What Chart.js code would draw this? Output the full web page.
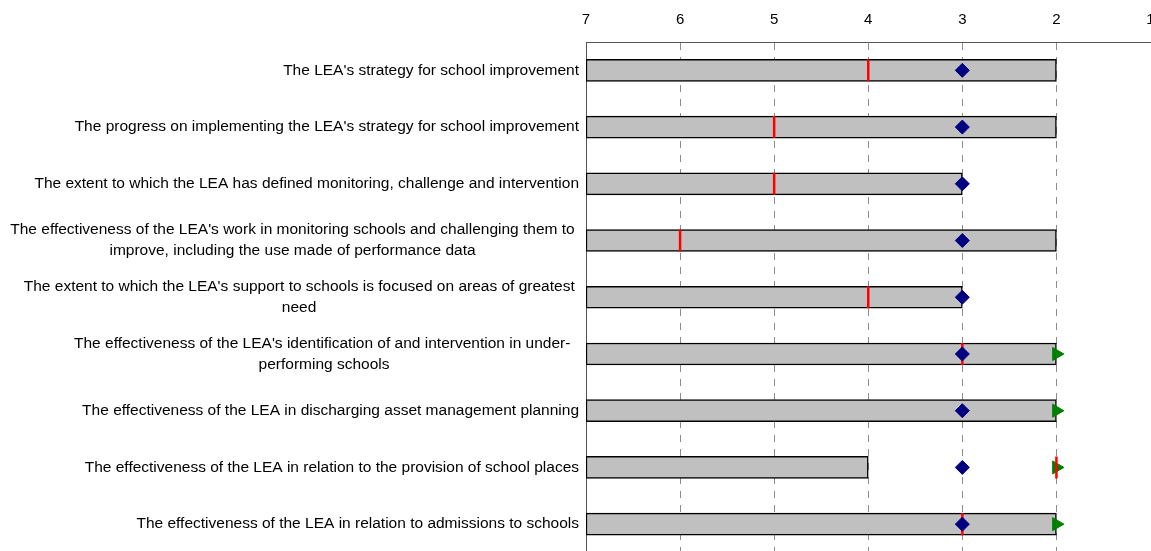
<!DOCTYPE html>
<html>
<head>
<meta charset="utf-8">
<script src="https://cdn.jsdelivr.net/npm/chart.js@4"></script>
<style>
  html, body { margin: 0; padding: 0; background: #fff; overflow: hidden; width: 1151px; height: 551px; }
  #chart { position: absolute; left: 0; top: 0; }
</style>
</head>
<body>
<canvas id="chart" width="1164" height="566"></canvas>
<script>
const categories = [
    ["The LEA's strategy for school improvement"],
    ["The progress on implementing the LEA's strategy for school improvement"],
    ["The extent to which the LEA has defined monitoring, challenge and intervention"],
    ["The effectiveness of the LEA's work in monitoring schools and challenging them to ", "improve, including the use made of performance data"],
    ["The extent to which the LEA's support to schools is focused on areas of greatest ", "need"],
    ["The effectiveness of the LEA's identification of and intervention in under-  ", "performing schools"],
    ["The effectiveness of the LEA in discharging asset management planning"],
    ["The effectiveness of the LEA in relation to the provision of school places"],
    ["The effectiveness of the LEA in relation to admissions to schools"]
];
const barStart = 7;
const barEnd = [2, 2, 3, 2, 3, 2, 2, 4, 2];
const redMark = [4, 5, 5, 6, 4, 3, null, 2, 3];
const blueMark = [3, 3, 3, 3, 3, 3, 3, 3, 3];
const greenMark = [null, null, null, null, null, 2, 2, 2, 2];
const xTicks = [7, 6, 5, 4, 3, 2, 1];

const FAMILY = '"Liberation Sans", Arial, sans-serif';
const measure = document.createElement('canvas').getContext('2d');
measure.font = '15.5px ' + FAMILY;
const spaceW = measure.measureText(' ').width;

// centre the lines of a wrapped label on its widest line (labels are drawn right-aligned)
function centreLines(lines) {
    if (lines.length < 2) return lines[0];
    const widths = lines.map(l => measure.measureText(l.trimEnd()).width);
    const maxW = Math.max(...widths);
    const full = measure.measureText(lines[widths.indexOf(maxW)]).width;
    return lines.map((l, i) => l.trimEnd() + ' '.repeat(Math.round(((maxW - widths[i]) / 2 + full - maxW) / spaceW)));
}
const labels = categories.map(c => c.join(' ').trim());

const ctx = document.getElementById('chart').getContext('2d');
new Chart(ctx, {
    type: 'bar',
    data: {
        labels: labels,
        datasets: [
            {
                type: 'bar',
                data: barEnd.map(v => [barStart, v]),
                backgroundColor: '#C0C0C0',
                borderColor: '#000000',
                borderWidth: 1.5,
                borderSkipped: false,
                barThickness: 22,
                order: 4
            },
            {
                type: 'line',
                indexAxis: 'y',
                data: greenMark,
                showLine: false,
                pointStyle: 'triangle',
                rotation: 90,
                radius: 7.5,
                backgroundColor: '#008000',
                borderColor: '#008000',
                borderWidth: 1,
                order: 3
            },
            {
                type: 'line',
                indexAxis: 'y',
                data: redMark,
                showLine: false,
                pointStyle: 'line',
                rotation: 90,
                radius: 11,
                borderColor: '#FF0000',
                borderWidth: 2.5,
                order: 2
            },
            {
                type: 'line',
                indexAxis: 'y',
                data: blueMark,
                showLine: false,
                pointStyle: 'rectRot',
                radius: 7,
                backgroundColor: '#000080',
                borderColor: '#000080',
                borderWidth: 1,
                order: 1
            }
        ]
    },
    options: {
        indexAxis: 'y',
        responsive: false,
        animation: false,
        devicePixelRatio: 1,
        layout: { padding: { top: 0, right: 10, bottom: 8, left: 0 } },
        plugins: {
            legend: { display: false },
            tooltip: { enabled: false }
        },
        scales: {
            x: {
                position: 'top',
                reverse: true,
                min: 1,
                max: 7,
                afterBuildTicks: (scale) => { scale.ticks = xTicks.map(v => ({ value: v })); },
                afterFit: (scale) => {
                    scale.height = 42;
                    scale.paddingLeft = 0;
                    scale.paddingRight = 0;
                },
                ticks: {
                    color: '#000',
                    font: { family: FAMILY, size: 15 },
                    padding: 13
                },
                grid: {
                    drawTicks: false,
                    color: (c) => (c.tick && c.tick.value === 1) ? 'rgba(0,0,0,0)' : '#8c8c8c',
                    lineWidth: 1
                },
                border: { display: true, color: '#555', width: 1, dash: [7, 7] }
            },
            y: {
                afterFit: (scale) => {
                    scale.width = 586;
                    scale.paddingTop = 0;
                    scale.paddingBottom = 0;
                },
                ticks: {
                    color: '#000',
                    font: { family: FAMILY, size: 15.5, lineHeight: 1.35 },
                    padding: 7,
                    autoSkip: false,
                    callback: (value, index) => centreLines(categories[index])
                },
                grid: { display: true, drawOnChartArea: false, drawTicks: false },
                border: { display: true, color: '#555', width: 1 }
            }
        }
    }
});
</script>
</body>
</html>
